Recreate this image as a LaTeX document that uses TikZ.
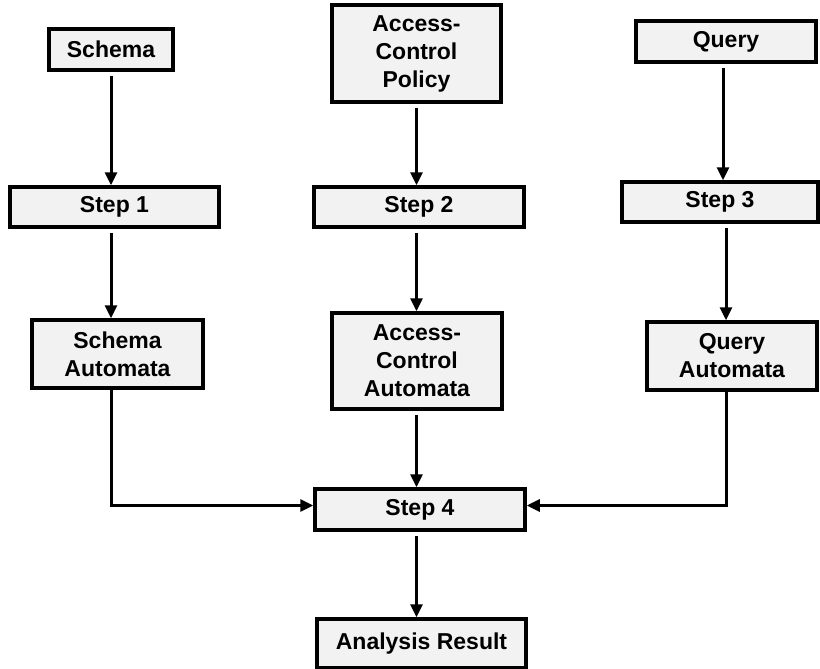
\documentclass[tikz,border=0pt]{standalone}
\usepackage{fontspec}
\setmainfont{Liberation Sans}
\usetikzlibrary{arrows.meta}
\begin{document}
\begin{tikzpicture}[x=1pt,y=-1pt,
  box/.style={draw=black, line width=3.5pt, fill=black!5, rectangle, inner sep=0pt,
    align=center, font=\fontsize{23}{28}\selectfont\bfseries},
  conn/.style={line width=3pt, -{Triangle[length=13pt,width=12pt]}},
]
\useasboundingbox (0,0) rectangle (820,669);
\node[box, minimum width=124pt, minimum height=41pt] (sch) at (111,49.5) {Schema};
\node[box, minimum width=169pt, minimum height=97pt] (acp) at (416.5,53.5) {Access-\\Control\\Policy};
\node[box, minimum width=180pt, minimum height=41pt] (qry) at (726,41.5) {Query};
\node[box, minimum width=209pt, minimum height=40pt] (s1) at (114.5,207) {Step 1};
\node[box, minimum width=210pt, minimum height=40pt] (s2) at (419,207) {Step 2};
\node[box, minimum width=196pt, minimum height=40pt] (s3) at (720,202) {Step 3};
\node[box, minimum width=171pt, minimum height=68pt] (sa) at (117.5,354) {Schema\\Automata};
\node[box, minimum width=170pt, minimum height=96pt] (aca) at (417,361) {Access-\\Control\\Automata};
\node[box, minimum width=170pt, minimum height=68pt] (qa) at (732,356) {Query\\Automata};
\node[box, minimum width=210pt, minimum height=41pt] (s4) at (420,509.5) {Step 4};
\node[box, minimum width=209pt, minimum height=49pt] (ar) at (421.5,643.5) {Analysis Result};

\draw[conn, shorten <=4pt] (sch.south) -- (sch.south |- s1.north);
\draw[conn, shorten <=4pt] (acp.south) -- (acp.south |- s2.north);
\draw[conn, shorten <=4pt] ([xshift=-3pt]qry.south) -- ([xshift=-3pt]qry.south |- s3.north);
\draw[conn, shorten <=4pt] (s1.south -| sch.south) -- (sch.south |- sa.north);
\draw[conn, shorten <=4pt] (s2.south -| acp.south) -- (acp.south |- aca.north);
\draw[conn, shorten <=4pt] (s3.south -| qry.south) -- (qry.south |- qa.north);
\draw[conn, shorten <=4pt] (aca.south -| acp.south) -- (acp.south |- s4.north);
\draw[conn] (sa.south -| sch.south) |- ([yshift=4pt]s4.west);
\draw[conn] (qa.south -| qry.south) |- ([yshift=4pt]s4.east);
\draw[conn, shorten <=4pt] (s4.south -| acp.south) -- (acp.south |- ar.north);
\end{tikzpicture}
\end{document}
